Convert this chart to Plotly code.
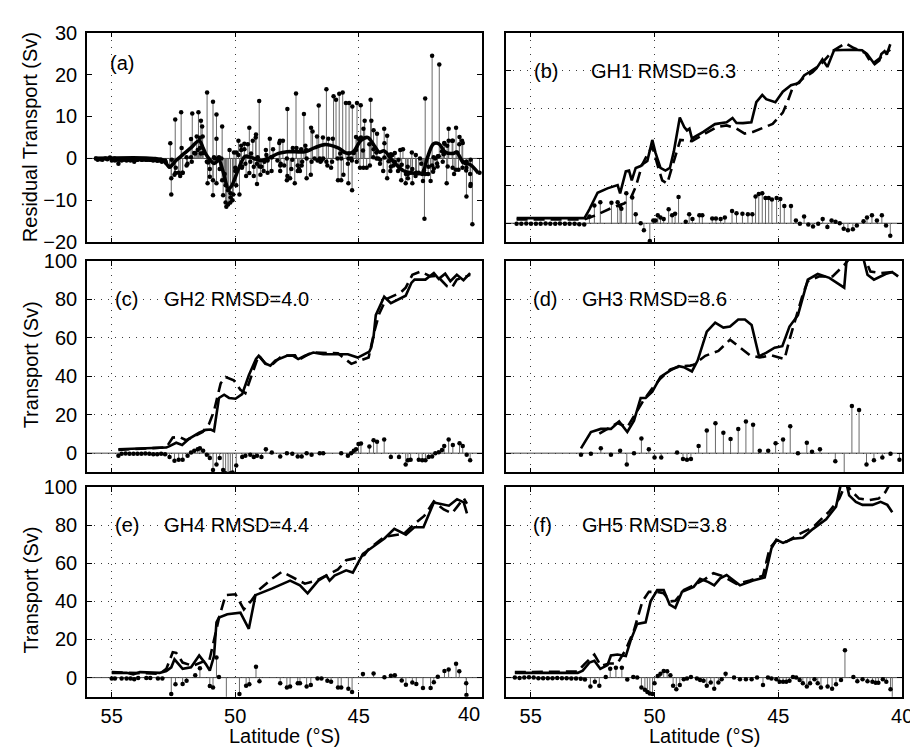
import plotly.graph_objects as go

FONT = "Liberation Sans, Arial, Helvetica, sans-serif"

# ---------------- panel (a): smoothed residual curve ----------------
smooth_lat_a = [55.7, 53.3, 52.9, 52.66, 52.4, 52.1, 51.8, 51.46, 51.3, 51.19, 51.0, 50.86, 50.66, 50.5,
                50.27, 50.14, 49.87, 49.6, 49.39, 49.15, 48.92, 48.6, 48.25, 47.9, 47.58, 47.18, 46.8,
                46.38, 45.84, 45.51, 45.24, 44.91, 44.64, 44.37, 44.17, 43.97, 43.64, 43.17, 42.77,
                42.43, 42.23, 41.97, 41.76, 41.5, 41.16, 41.04, 40.76, 40.48, 40.16]
smooth_a = [0, 0, -0.5, -2, -0.5, 1, 2.5, 4.2, 2.5, 1, -0.5, -1.2, -0.5, -3,
            -7.2, -6.5, -2.5, 0.5, 0.3, -0.2, -0.5, 0.2, 1.2, 1.6, 1.6, 1.6, 2.5,
            3.3, 2.5, 1.3, 1.5, 4.3, 5, 3, 1.5, 1.8, -0.5, -3, -3.5,
            -3.5, 0, 3.5, 3.5, 1.5, 1.2, 1.5, -1, -1.5, -3.5]

# ---------------- panel (b): GH1 ----------------
solid_lat_b = [55.57, 52.83, 52.63, 52.30, 51.90, 51.49, 51.39, 51.16, 51.03, 50.92, 50.76, 50.56, 50.45,
               50.29, 50.09, 49.96, 49.76, 49.56, 49.38, 49.22, 48.98, 48.80, 48.69, 48.59, 48.49, 48.03,
               47.56, 47.29, 47.09, 46.85, 46.69, 46.43, 46.09, 45.89, 45.65, 45.49, 45.12, 44.82, 44.49,
               44.16, 43.96, 43.76, 43.42, 43.22, 43.02, 42.75, 42.02, 41.62, 41.42, 41.11, 40.92, 40.84,
               40.71, 40.62, 40.48]
solid_b = [2.7, 2.7, 7.3, 16, 18.3, 20, 15.7, 27.2, 27.6, 22.5, 29, 30, 31.3,
           32.7, 43.7, 36.9, 29, 27.6, 29, 37.7, 55.5, 50.4, 48.7, 49.6, 44.5, 47.9,
           52, 52.6, 53, 55.2, 52.6, 52.5, 53, 63.5, 67.3, 65.1, 63.5, 69, 72.4,
           73.6, 77.5, 79.2, 82, 86, 82, 90.7, 91, 90.7, 88.8, 83.4, 85.4, 88.8,
           90.2, 88.5, 93.9]
dash_lat_b = [55.57, 52.83, 52.43, 52.03, 51.63, 51.23, 50.96, 50.76, 50.49, 50.29, 50.09, 49.89, 49.69,
              49.49, 49.22, 48.96, 48.49, 48.03, 47.49, 47.09, 46.69, 46.36, 46.03, 45.23, 44.82, 44.62,
              44.42, 44.02, 43.62, 43.22, 42.82, 42.29, 41.95, 41.49, 41.22, 40.88, 40.68, 40.48]
dash_b = [2, 2, 3.9, 6.4, 8.6, 10.3, 13.2, 19.1, 31, 36, 40.3, 31, 22.5,
          20.8, 32.7, 43.7, 43.1, 46.5, 50.4, 51.3, 49.6, 47, 47.9, 52.1, 58, 64,
          71.2, 75.8, 79.2, 84.3, 90.2, 94.4, 91.9, 89.3, 83.4, 86.8, 89.3, 91]
stem_lat_b = [55.57, 55.38, 55.18, 54.99, 54.79, 54.60, 54.40, 54.21, 54.01, 53.82, 53.62, 53.43, 53.23,
              53.04, 52.84,
              52.63, 52.43, 52.19, 51.74, 51.49, 51.39, 51.34, 51.14, 50.90, 50.76,
              50.56, 50.43, 50.19, 50.05, 49.96, 49.87, 49.76, 49.63, 49.43, 49.29,
              49.17, 49.03, 48.74, 48.60, 48.47, 48.19, 48.07, 47.67, 47.52, 47.33,
              47.16, 46.87, 46.69, 46.45, 46.23, 46.05, 45.92, 45.79, 45.65, 45.52,
              45.39, 45.26, 45.07, 44.92, 44.76, 44.49, 44.29, 44.13, 43.96, 43.79,
              43.60, 43.39, 43.21, 43.02, 42.85, 42.69, 42.52, 42.36, 42.19, 41.99,
              41.83, 41.56, 41.42, 41.22, 41.02, 40.82, 40.65, 40.48]
stem_b = [-0.3, -0.3, -0.2, -0.3, -0.3, -0.3, -0.2, -0.3, -0.3, -0.2, -0.3, -0.3, -0.3, -0.5, -0.6,
          3.6, 9.3, 11, 10.7, 11, 9, 7.6, 15.7, 13.5, 4.7,
          0, -3.7, -9.3, 1.4, 1.4, 4.2, 3, 2.2, 7.3, 4.2,
          5, 13.7, 0.8, 4.7, 2.2, 4.2, 4.2, 2.5, 2.5, 2.2,
          3, 6.4, 5.2, 5, 4.7, 4.7, 14, 15.4, 15.7, 13.2,
          13.2, 12.4, 13.2, 12.7, 9, 9, 1.4, -0.3, 3.6, -0.7,
          -1.7, -0.3, 2.2, -2, 1.4, 0.8, 0, -2.9, -3.7, -3.2,
          -1.2, 1, 3, 4.2, 1.4, 4.2, -1.2, -6.6]

# ---------------- panel (c): GH2 ----------------
solid_lat_c = [54.73, 52.79, 52.66, 52.39, 52.15, 51.86, 51.46, 51.19, 50.99, 50.86,
               50.66, 50.45, 50.25, 49.99, 49.72, 49.45, 49.16, 49.05, 48.78, 48.58,
               48.38, 47.91, 47.65, 47.45, 47.18, 46.84, 46.44, 45.84, 45.44, 45.04,
               44.57, 44.50, 44.40, 44.31, 44.17, 43.97, 43.70, 43.10, 42.87, 42.74,
               42.30, 41.96, 41.76, 41.50, 41.29, 41.03, 40.76, 40.49]
solid_c = [2, 2.9, 3.7, 5.4, 4.2, 7.6, 10.6, 12.1, 12.3, 11.5,
           28.7, 30.4, 28.7, 28.3, 30.7, 40.5, 49, 50.6, 46.7, 45.5,
           48.1, 50.6, 50.6, 48.9, 50.6, 52.3, 51.4, 51.4, 51.4, 49.7,
           52.8, 54.8, 60.7, 71.7, 75.9, 81.3, 77.9, 81.8, 88.5, 90.2,
           90.2, 93.6, 90.6, 93.3, 89.4, 92.7, 89.9, 93.6]
dash_lat_c = [54.73, 52.79, 52.53, 52.26, 51.99, 51.72, 51.32, 51.06, 50.86, 50.59,
              50.39, 50.06, 49.79, 49.59, 49.32, 49.05, 48.78, 48.52, 48.11, 47.58,
              47.45, 46.91, 45.84, 45.30, 45.04, 44.60, 44.37, 44.17, 43.90, 43.30,
              43.10, 42.83, 42.50, 42.10, 41.83, 41.43, 41.23, 41.03, 40.63, 40.49]
dash_c = [1.7, 3, 8.1, 8.4, 6.7, 8.4, 11, 15.2, 21.9, 36.3,
          39.6, 37.9, 32.9, 31.2, 41.3, 50.9, 46.4, 45.9, 50.6, 50.9,
          48.4, 52.3, 51.9, 46.4, 47.7, 49.7, 63.2, 72.5, 80, 83.5,
          86, 92.7, 94.4, 91.9, 92.2, 86.8, 86, 90.2, 91.9, 92.7]
stem_lat_c = [54.73, 54.60, 54.44, 54.28, 54.12, 53.96, 53.80, 53.64, 53.48, 53.32, 53.16, 53.00, 52.84,
              52.66, 52.46, 52.29, 52.13, 51.93, 51.79, 51.66, 51.52, 51.43, 51.30,
              51.15, 51.03, 50.90, 50.76, 50.63, 50.49, 50.39, 50.29, 50.20, 50.11,
              49.96, 49.72, 49.59, 49.39, 49.25, 49.12, 48.94, 48.76, 48.52, 48.18,
              47.91, 47.69, 47.47, 47.31, 47.11, 46.91, 46.58, 46.44, 45.71, 45.44,
              45.31, 45.20, 45.11, 45.01, 44.91, 44.57, 44.40, 44.26, 43.97, 43.70,
              43.37, 43.10, 43.01, 42.90, 42.57, 42.43, 42.30, 42.17, 42.03, 41.90,
              41.76, 41.63, 41.54, 41.36, 41.19, 40.92, 40.79, 40.63, 40.49]
stem_c = [-1.3, -0.3, -0.2, -0.3, -0.3, -0.3, -0.3, -0.2, -0.3, -0.5, -0.5, -0.3, -0.5,
          -2, -3.9, -3.4, -3.4, -1.3, 0.3, 1.3, 2, 2.5, 1.3,
          -0.8, -2.5, -8.8, -5.9, -2.5, -8.8, -10.5, -11, -10.5, -10,
          -6.4, -2, -1.3, -0.8, -2, -1.3, -2, 2, 0.3, -1.7,
          0, -0.3, -1.7, -1.7, 0, -0.8, 0, 0, 0, -1.3,
          0, 1.3, 2, 4.7, 5, 3.4, 6.7, 5.9, 7.1, -2,
          -2, -5.9, -3.7, -3.4, -3.4, -3.7, -3.7, -2, -1.7, 0,
          0.5, 1.7, 3.7, 7.1, 4.2, 5.1, 3.7, -0.8, -3.7]

# ---------------- panel (d): GH3 ----------------
solid_lat_d = [52.97, 52.57, 52.17, 51.76, 51.43, 51.10, 50.83,
               50.56, 50.36, 50.09, 49.76, 49.36, 49.02, 48.82, 48.49, 48.26, 47.89,
               47.55, 47.22, 46.95, 46.62, 46.35, 46.08, 45.78, 45.48, 45.15, 44.84,
               44.55, 44.21, 44.01, 43.81, 43.41, 42.94, 42.34, 42.22, 41.62, 41.40,
               41.14, 40.67, 40.40, 40.16]
solid_d = [2.5, 11, 12.6, 12.6, 16.5, 11, 16.9,
           28.7, 28.7, 32, 39.6, 43, 45.2, 44.7, 42.5, 48.1, 63.2,
           67.8, 65.3, 65.8, 69.5, 69.5, 66.6, 50.3, 52.3, 54.8, 55.6,
           65.8, 71.7, 80.9, 90.2, 93.1, 91.1, 86, 104, 104, 92.7,
           90.2, 93.1, 94.1, 91.9]
dash_lat_d = [52.23, 51.90, 51.50, 51.10, 50.70, 50.43, 50.09, 49.76, 49.36, 48.96,
              48.56, 48.42, 47.95, 47.42, 46.95, 46.48, 46.15, 45.75, 45.28, 44.75,
              44.55, 44.28, 44.01, 43.81, 43.34, 42.81, 42.34, 42.07, 41.54, 41.28,
              40.88, 40.40, 40.20]
dash_d = [10.1, 12.6, 15.7, 13.5, 21.9, 27.8, 33.7, 38.8, 43.5, 45.2,
          45.5, 45.9, 50.6, 53.1, 59, 54.3, 50.9, 49.7, 50.9, 48.9,
          59, 70.8, 82.6, 89.4, 91.9, 91.9, 97.8, 102, 102, 94.4,
          93.6, 94.1, 91.9]
stem_lat_d = [52.97, 52.57, 52.17, 51.76, 51.39, 51.12, 50.83, 50.53, 50.23, 50.00,
              49.73, 49.09, 48.85, 48.69, 48.53, 48.22, 47.89, 47.54, 47.22, 46.93,
              46.62, 46.31, 46.02, 45.75, 45.41, 45.11, 44.81, 44.52, 44.21, 43.85,
              43.64, 43.32, 42.70, 42.34, 42.03, 41.74, 41.44, 41.14, 40.80, 40.47,
              40.11]
stem_d = [-0.8, -0.3, 2.5, -0.8, 1.2, -5.9, 0, 7.6, 2, -2.2,
          -2.2, 0.3, -3, -3.4, -3, 3.7, 11.8, 15.5, 10.6, 7.3,
          12.6, 16.5, 14.8, 1.2, 1.2, 5.1, 7.1, 14, 0, 5.4,
          0.8, 2, -4.2, -14.4, 24.5, 22.4, -5.9, -3.7, -2.2, -0.3,
          -3.4]

# ---------------- panel (e): GH4 ----------------
solid_lat_e = [55.00, 54.40, 54.13, 53.86, 53.06, 52.79, 52.59, 52.46, 52.13, 51.79,
               51.46, 51.19, 51.03, 50.86, 50.76, 50.66, 50.32, 49.79, 49.45, 49.18,
               48.52, 47.78, 47.38, 47.07, 46.64, 46.31, 46.18, 45.98, 45.71, 45.51,
               45.24, 44.83, 44.49, 43.96, 43.56, 43.09, 42.75, 42.38, 41.96, 41.35,
               41.02, 40.75, 40.62]
solid_e = [2.5, 2.5, 1.7, 2.9, 2.5, 3.4, 5.4, 9.6, 4.6, 5.4,
           11.6, 7.1, 3.7, 11.3, 29, 31.5, 33.2, 34.1, 25.6, 43.3,
           46.7, 50.9, 48.4, 44.2, 50.9, 53.5, 50.9, 53.5, 55.1, 56.3,
           55.1, 64.9, 68, 73, 78.1, 75, 78.9, 78.9, 91.9, 90.2,
           93.6, 91.9, 86.2]
dash_lat_e = [55.00, 53.06, 52.79, 52.53, 52.39, 52.13, 51.72, 51.32, 51.06, 50.86,
              50.66, 50.39, 49.99, 49.65, 49.32, 49.05, 48.52, 48.11, 47.58, 47.18,
              46.71, 46.24, 45.84, 45.51, 45.11, 44.77, 44.62, 43.96, 43.16, 42.75,
              42.35, 41.96, 41.56, 41.22, 40.75, 40.62]
dash_e = [2.9, 2, 4.6, 13.3, 13, 7.9, 6.2, 8.3, 8.3, 19.4,
          31.2, 43.3, 43.7, 35.8, 40.8, 45.9, 51.8, 55.5, 51.8, 49.3,
          50.9, 54.3, 56.8, 61.6, 62.7, 64.4, 67.1, 73.9, 75.5, 80.6,
          84.8, 92.4, 88.2, 86.2, 94.1, 91.2]
stem_lat_e = [55.00, 54.87, 54.60, 54.40, 54.24, 54.09, 53.93, 53.60, 53.44, 53.13,
              52.95, 52.59, 52.42, 52.13, 51.97, 51.62, 51.43, 51.03, 50.90, 50.76,
              50.66, 50.36, 49.83, 49.56, 49.43, 49.16, 49.02, 48.18, 47.91, 47.78,
              47.47, 47.38, 47.11, 46.94, 46.67, 46.51, 46.27, 46.12, 45.84, 45.71,
              45.42, 45.27, 44.83, 44.40, 43.96, 43.70, 43.54, 43.26, 43.09, 42.83,
              42.67, 42.40, 42.09, 41.96, 41.80, 41.53, 41.36, 41.06, 40.93, 40.65,
              40.64]
stem_e = [-0.5, -0.5, -0.5, -0.5, -0.5, -0.8, -0.2, -0.2, -0.2, -0.5,
          -0.5, -8.6, -3.5, -3.4, -1.7, 1.2, 4.9, -4.4, -5.2, 10.5,
          0.3, -11.5, -8.6, -4.2, -3.5, 5.7, -1.9, -3, -5.2, -4.7,
          -3, -3, -4.7, -3.9, -0.5, -0.5, -1.7, -2.2, -5.2, -5.2,
          -5.9, -7.6, 1.9, 2.2, 0.2, 1, 1.3, -1.5, -3.7, -2.5,
          -3.4, -5.4, -5.4, -2.4, 0.5, 3.5, 4.2, 7.3, 3.4, -2.9,
          -9.1]

# ---------------- panel (f): GH5 ----------------
solid_lat_f = [55.64, 53.10, 52.90, 52.63, 52.43, 52.19, 51.90, 51.76, 51.50, 51.16,
               50.96, 50.70, 50.36, 50.16, 49.89, 49.63, 49.39, 49.16, 48.89, 48.42,
               48.16, 47.82, 47.59, 47.35, 47.09, 46.55, 46.02, 45.55, 45.28, 45.08,
               44.81, 44.41, 44.01, 43.61, 43.07, 42.67, 42.45, 42.27, 42.14, 41.87,
               41.60, 41.20, 40.87, 40.60, 40.40]
solid_f = [2.5, 2.5, 3.7, 7.9, 8.8, 4.6, 6.6, 11.6, 12.1, 11.3,
           19.7, 28.2, 29, 40, 45.9, 45.9, 38.3, 36.6, 45, 47.6,
           51.8, 50.1, 48.4, 52.1, 53.8, 48.4, 50.9, 52.6, 67.8, 72.3,
           70.7, 72.8, 73.4, 77.9, 83, 89.7, 103, 103, 95.6, 92.2,
           90.6, 90.6, 92.2, 90.6, 86.8]
dash_lat_f = [55.64, 53.10, 52.83, 52.43, 52.17, 51.83, 51.50, 51.16, 50.83, 50.49,
              50.23, 49.89, 49.63, 49.36, 49.16, 48.82, 48.42, 47.95, 47.62, 47.22,
              46.69, 46.15, 45.62, 45.35, 45.08, 44.68, 44.14, 43.61, 42.94, 42.54,
              42.27, 42.07, 41.74, 41.34, 40.95, 40.68, 40.48]
dash_f = [2.9, 3.2, 7.1, 12.1, 6.2, 7.4, 7.4, 14.7, 24.8, 40,
          45, 45, 44.2, 40, 40.3, 45.9, 48.4, 51.8, 54.8, 53.1,
          49.2, 50.9, 53.5, 67.8, 72, 71.2, 75.4, 78.8, 87.2, 93.9,
          102, 98.1, 93.9, 93.1, 93.9, 97.3, 102]
stem_lat_f = [55.64, 55.45, 55.26, 55.07, 54.88, 54.69, 54.50, 54.31, 54.12, 53.93,
              53.74, 53.55, 53.36, 53.17, 52.98,
              52.81, 52.59, 52.41, 52.23, 51.97, 51.79, 51.56, 51.32, 51.10, 50.86,
              50.70, 50.53, 50.39, 50.29, 50.19, 50.08, 50.00, 49.87, 49.76, 49.63,
              49.49, 49.36, 49.25, 49.12, 48.98, 48.82, 48.69, 48.53, 48.29, 48.16,
              48.02, 47.89, 47.73, 47.59, 47.42, 47.29, 47.13, 46.79, 46.55, 46.31,
              46.08, 45.86, 45.62, 45.42, 45.28, 45.08, 44.95, 44.81, 44.68, 44.55,
              44.41, 44.28, 44.14, 44.01, 43.85, 43.72, 43.54, 43.41, 43.28, 43.01,
              42.83, 42.67, 42.47, 42.31, 41.97, 41.81, 41.60, 41.40, 41.20, 41.07,
              40.96, 40.78, 40.64, 40.47, 40.40]
stem_f = [0, -0.2, 0, 0.2, 0, -0.3, -0.3, -0.3, -0.3, -0.2,
          -0.3, -0.3, -0.4, -0.5, -0.6,
          -1, -4.7, -2.2, -4.2, 0.3, 4.6, 5.2, 5.2, -1, 0.3,
          0, -5.2, -6.4, -7.6, -8.3, -8.6, -3, 0.8, 2, 3.5,
          3.4, 1.2, -4.2, -6.1, -3.9, -0.8, -0.5, 0.3, -0.5, -1.3,
          -1.7, -4.2, -2.5, -5.9, -2.5, -0.8, 2, 0, -0.8, -0.8,
          -0.8, 0, -3.9, 0, -0.5, -0.8, -2.2, -2.2, -2.2, -1.7,
          0.3, 0, -1.3, -3, -4.7, -3, -0.8, -3, -5.2, -4.7,
          -5.9, -3.5, -1.3, 14.3, 0.3, -1.9, -0.8, -1.9, -2.2, -2.7,
          -2.7, -0.8, -2.2, -6.1, -15.7]

# panel labels and texts
panel_tags = ["(a)", "(b)", "(c)", "(d)", "(e)", "(f)"]
panel_notes = ["", "GH1 RMSD=6.3", "GH2 RMSD=4.0", "GH3 RMSD=8.6", "GH4 RMSD=4.4", "GH5 RMSD=3.8"]
x_ticks = [55, 50, 45, 40]
x_ticktext_left = ["55", "50", "45", ""]   # left-column "40" is drawn as its own label, pulled inward
x_ticktext_right = ["55", "50", "45", "40"]
y_ticks_a = [-20, -10, 0, 10, 20, 30]
y_ticktext_a = ["\u221220", "\u221210", "0", "10", "20", "30"]
y_ticks_t = [0, 20, 40, 60, 80, 100]

# panel (a) shows the residuals of all five estimates together
stem_lat_a = stem_lat_b + stem_lat_c + stem_lat_d + stem_lat_e + stem_lat_f
stem_a = stem_b + stem_c + stem_d + stem_e + stem_f

for a_, b_ in [(solid_lat_b, solid_b), (dash_lat_b, dash_b), (stem_lat_b, stem_b),
               (solid_lat_c, solid_c), (dash_lat_c, dash_c), (stem_lat_c, stem_c),
               (solid_lat_d, solid_d), (dash_lat_d, dash_d), (stem_lat_d, stem_d),
               (solid_lat_e, solid_e), (dash_lat_e, dash_e), (stem_lat_e, stem_e),
               (solid_lat_f, solid_f), (dash_lat_f, dash_f), (stem_lat_f, stem_f),
               (smooth_lat_a, smooth_a)]:
    assert len(a_) == len(b_), (len(a_), len(b_))


def stems(lats, vals):
    xs, ys = [], []
    for la, v in zip(lats, vals):
        xs += [la, la, None]
        ys += [0, v, None]
    return xs, ys


W, H = 918, 756
colL = [80 / W, 480 / W]
colR = [504 / W, 905 / W]
rows = [[1 - 230 / H, 1 - 14 / H], [1 - 467 / H, 1 - 249 / H], [1 - 698 / H, 1 - 482 / H]]

fig = go.Figure()

STEM_COLOR = "#6a6a6a"
LW = 2.6


def add_stems(lats, vals, ax):
    sx, sy = stems(lats, vals)
    xa, ya = ax
    fig.add_trace(go.Scatter(x=sx, y=sy, mode="lines", line=dict(color=STEM_COLOR, width=1),
                             xaxis=xa, yaxis=ya, hoverinfo="skip"))
    fig.add_trace(go.Scatter(x=lats, y=vals, mode="markers",
                             marker=dict(color="black", size=4.5), xaxis=xa, yaxis=ya,
                             cliponaxis=True))


# panel (a)
add_stems(stem_lat_a, stem_a, ("x", "y"))
fig.add_trace(go.Scatter(x=smooth_lat_a, y=smooth_a, mode="lines", line=dict(color="black", width=3.6),
                         xaxis="x", yaxis="y", line_shape="spline"))

series = [
    ("x2", "y2", solid_lat_b, solid_b, dash_lat_b, dash_b, stem_lat_b, stem_b),
    ("x3", "y3", solid_lat_c, solid_c, dash_lat_c, dash_c, stem_lat_c, stem_c),
    ("x4", "y4", solid_lat_d, solid_d, dash_lat_d, dash_d, stem_lat_d, stem_d),
    ("x5", "y5", solid_lat_e, solid_e, dash_lat_e, dash_e, stem_lat_e, stem_e),
    ("x6", "y6", solid_lat_f, solid_f, dash_lat_f, dash_f, stem_lat_f, stem_f),
]
for xa, ya, sl, sv, dl, dv, tl, tv in series:
    add_stems(tl, tv, (xa, ya))
    fig.add_trace(go.Scatter(x=dl, y=dv, mode="lines", line=dict(color="black", width=LW, dash="11px,6px"),
                             xaxis=xa, yaxis=ya))
    fig.add_trace(go.Scatter(x=sl, y=sv, mode="lines", line=dict(color="black", width=LW),
                             xaxis=xa, yaxis=ya))

tickfont = dict(family=FONT, size=20, color="black")
GRID = dict(showgrid=True, gridcolor="#3c3c3c", griddash="1px,6px", gridwidth=1)
layout = dict(width=W, height=H, margin=dict(l=0, r=0, t=0, b=0), showlegend=False,
              paper_bgcolor="white", plot_bgcolor="white", font=dict(family=FONT, color="black"))

domains = [(colL, rows[0]), (colR, rows[0]), (colL, rows[1]), (colR, rows[1]), (colL, rows[2]), (colR, rows[2])]
annotations = []
shapes = []
for i in range(6):
    n = "" if i == 0 else str(i + 1)
    xd, yd = domains[i]
    bottom = i >= 4
    left = i % 2 == 0
    layout["xaxis" + n] = dict(domain=xd, anchor="y" + n, range=[56, 40], tickvals=x_ticks,
                               ticktext=x_ticktext_left if left else x_ticktext_right,
                               showticklabels=bottom, ticks="inside", ticklen=5, tickcolor="black",
                               showline=True, linecolor="black", linewidth=1.6, mirror="ticks",
                               zeroline=False, tickfont=tickfont, ticklabelstandoff=1, **GRID)
    if i == 0:
        yextra = dict(range=[-20, 30], tickvals=y_ticks_a, ticktext=y_ticktext_a, showgrid=False)
    else:
        yextra = dict(range=[-10, 100], tickvals=y_ticks_t, ticktext=[str(v) for v in y_ticks_t], **GRID)
    layout["yaxis" + n] = dict(domain=yd, anchor="x" + n, showticklabels=left, ticks="inside",
                               ticklen=5, tickcolor="black", showline=True, linecolor="black",
                               linewidth=1.6, mirror="ticks", zeroline=False, tickfont=tickfont,
                               ticklabelstandoff=4, **yextra)
    # zero baseline
    shapes.append(dict(type="line", xref="x" + n + " domain", yref="y" + n, x0=0, x1=1, y0=0, y1=0,
                       line=dict(color="#444", width=1), layer="below"))

# panel labels
tag_pos = [(55.15, 22.7), (54.93, 80), (54.96, 80), (54.97, 80), (54.96, 80), (54.97, 80)]
note_x = [None, 52.63, 52.95, 53.0, 52.95, 53.0]
for i in range(6):
    n = "" if i == 0 else str(i + 1)
    annotations.append(dict(x=tag_pos[i][0], y=tag_pos[i][1], xref="x" + n, yref="y" + n,
                            text=panel_tags[i], showarrow=False, xanchor="left", yanchor="middle",
                            font=dict(family=FONT, size=20, color="black")))
    if panel_notes[i]:
        annotations.append(dict(x=note_x[i], y=80, xref="x" + n, yref="y" + n,
                                text=panel_notes[i], showarrow=False, xanchor="left", yanchor="middle",
                                font=dict(family=FONT, size=20, color="black")))

# left-column "40" tick label, pulled in from the axis end as in the original
annotations.append(dict(x=467 / W, y=1 - 716 / H, xref="paper", yref="paper", text="40",
                        showarrow=False, font=tickfont, xanchor="center", yanchor="middle"))

# axis titles
title_font = dict(family=FONT, size=20, color="black")
annotations.append(dict(x=23 / W, y=1 - 122 / H, xref="paper", yref="paper", text="Residual Transport (Sv)",
                        textangle=-90, showarrow=False, font=title_font, xanchor="center", yanchor="middle"))
annotations.append(dict(x=23 / W, y=1 - 356 / H, xref="paper", yref="paper", text="Transport (Sv)",
                        textangle=-90, showarrow=False, font=title_font, xanchor="center", yanchor="middle"))
annotations.append(dict(x=23 / W, y=1 - 588 / H, xref="paper", yref="paper", text="Transport (Sv)",
                        textangle=-90, showarrow=False, font=title_font, xanchor="center", yanchor="middle"))
annotations.append(dict(x=280 / W, y=1 - 738 / H, xref="paper", yref="paper", text="Latitude (\u00b0S)",
                        showarrow=False, font=title_font, xanchor="center", yanchor="middle"))
annotations.append(dict(x=704.5 / W, y=1 - 738 / H, xref="paper", yref="paper", text="Latitude (\u00b0S)",
                        showarrow=False, font=title_font, xanchor="center", yanchor="middle"))

layout["annotations"] = annotations
layout["shapes"] = shapes
fig.update_layout(**layout)
fig.write_html("out.html")
